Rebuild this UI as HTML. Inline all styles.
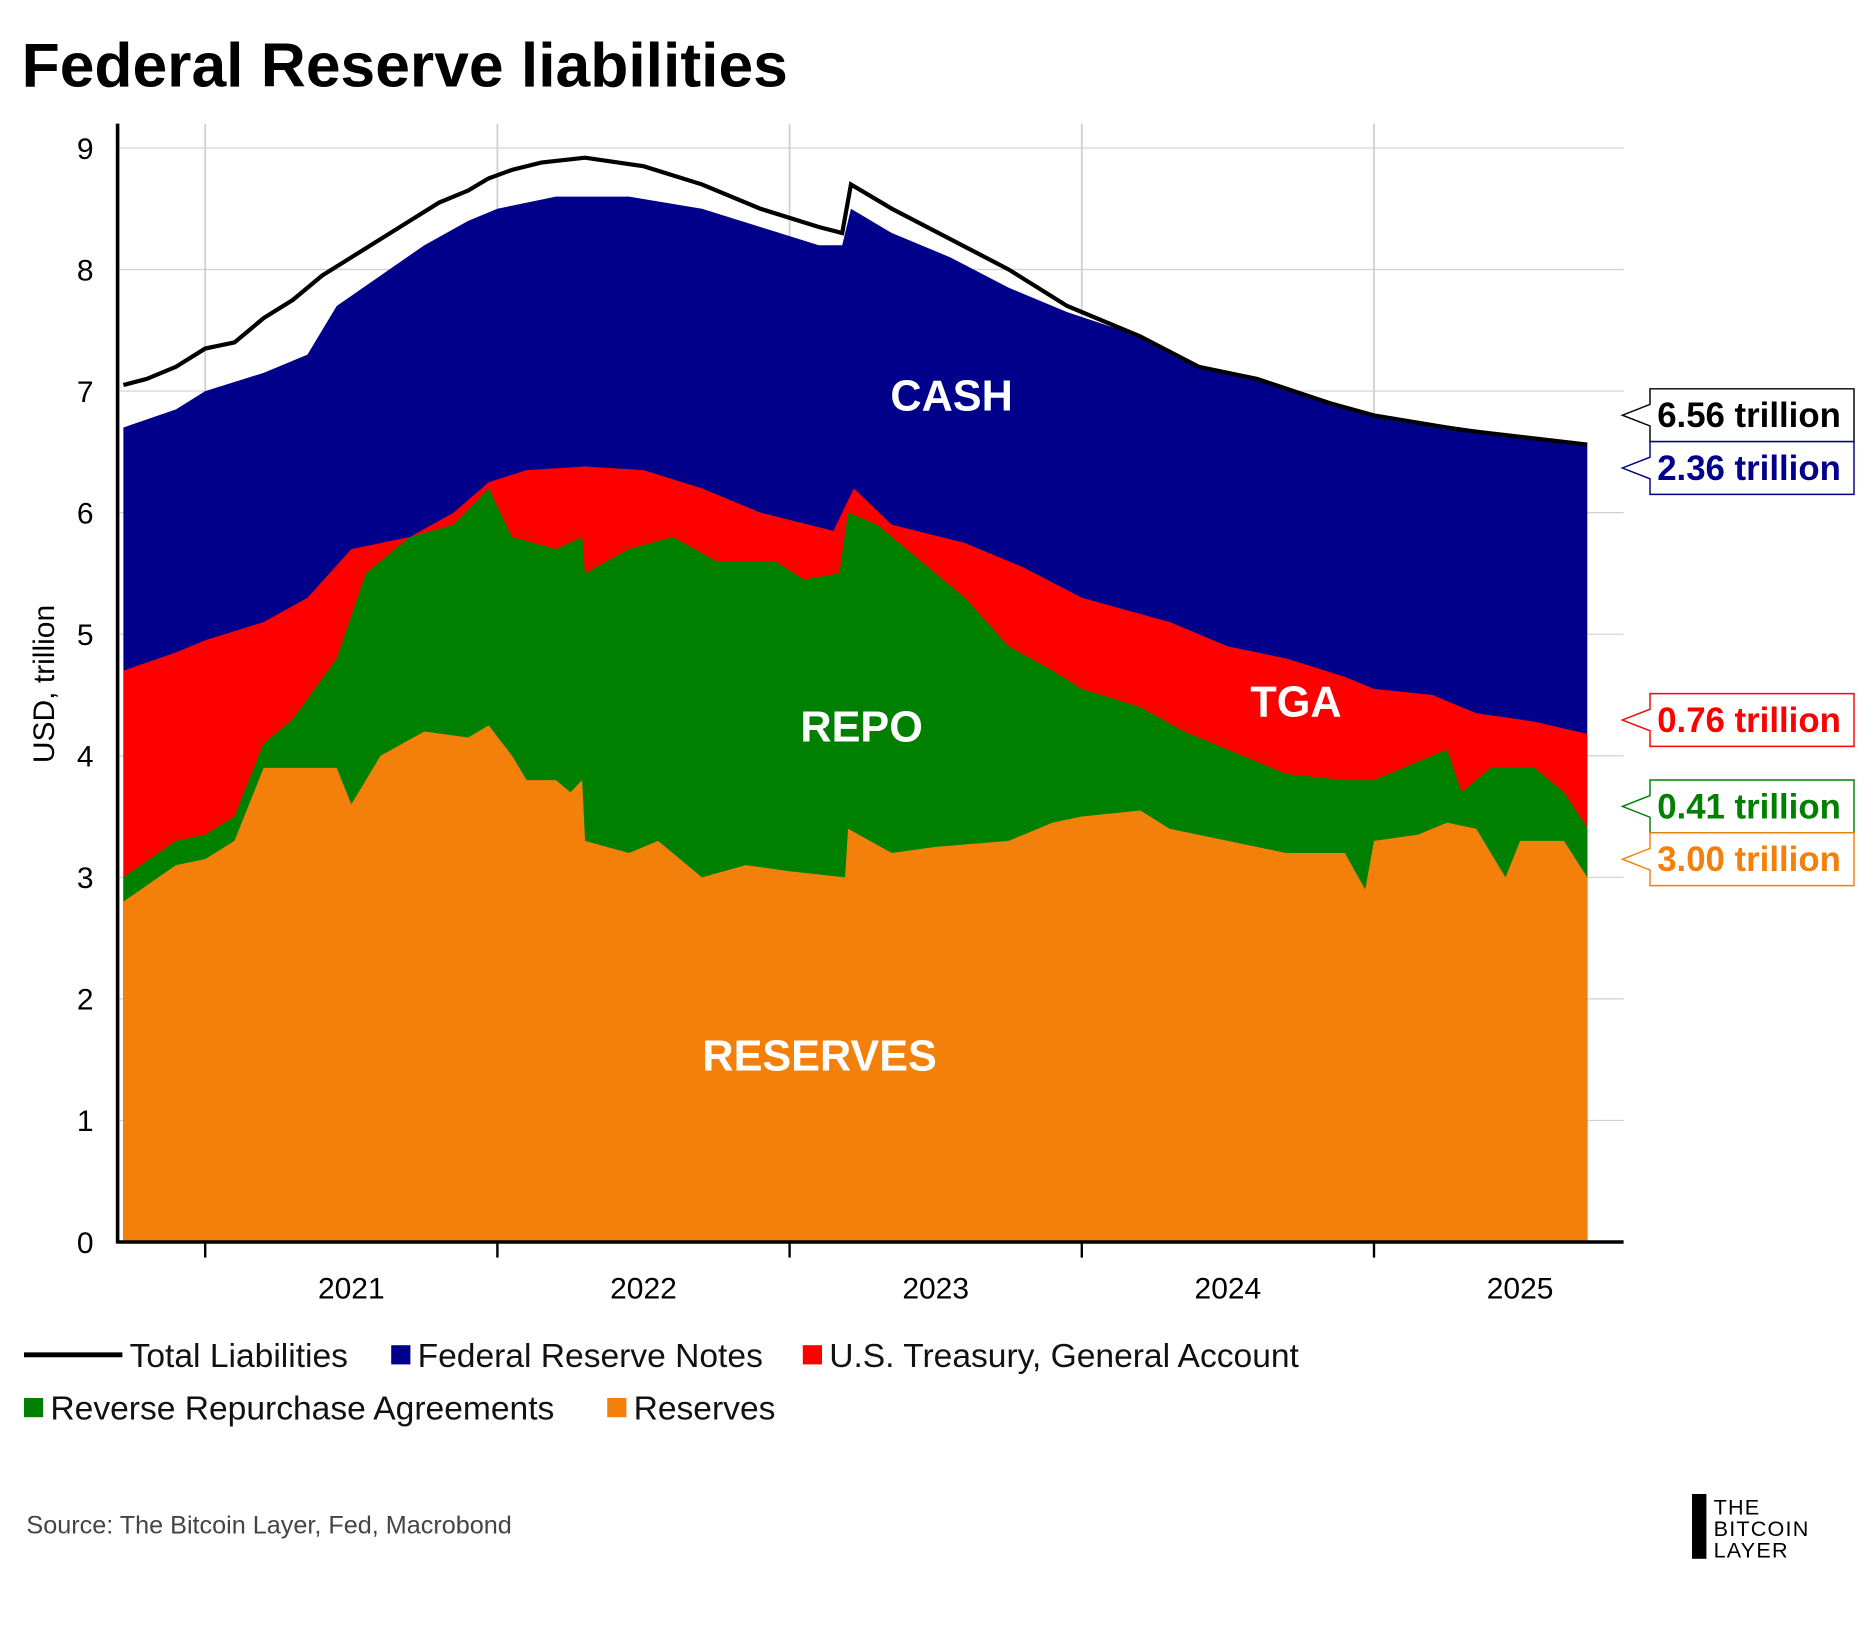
<!DOCTYPE html>
<html><head><meta charset="utf-8"><style>
html,body{margin:0;padding:0;background:#fff;}
svg{display:block;font-family:"Liberation Sans",sans-serif;}
</style></head><body>
<svg id="chart" width="1875" height="1625" viewBox="0 0 1562.5 1354.17">
<text x="18" y="72" font-size="52" font-weight="bold" fill="#000">Federal Reserve liabilities</text>
<g id="grid"></g>
<g id="areas"></g>
<g id="axes"></g>
<text x="0" y="0" transform="translate(45,570) rotate(-90)" text-anchor="middle" font-size="25" fill="#000">USD, trillion</text>
<g fill="#fff" font-weight="bold" font-size="36" text-anchor="middle">
<text x="793" y="342">CASH</text>
<text x="718" y="618">REPO</text>
<text x="683" y="892">RESERVES</text>
<text x="1080" y="597">TGA</text>
</g>
<g id="callouts"></g>
<g font-size="28" fill="#111">
<g><line x1="20" y1="1129" x2="102" y2="1129" stroke="#000" stroke-width="4"/><text x="108" y="1139">Total Liabilities</text></g>
<g><rect x="326" y="1121" width="16" height="16" fill="#00008b"/><text x="348" y="1139">Federal Reserve Notes</text></g>
<g><rect x="669" y="1121" width="16" height="16" fill="#ff0000"/><text x="691" y="1139">U.S. Treasury, General Account</text></g>
<g><rect x="20" y="1165" width="16" height="16" fill="#008000"/><text x="42" y="1183">Reverse Repurchase Agreements</text></g>
<g><rect x="506" y="1165" width="16" height="16" fill="#f4800c"/><text x="528" y="1183">Reserves</text></g>
</g>
<text x="22" y="1278" font-size="21" fill="#444">Source: The Bitcoin Layer, Fed, Macrobond</text>
<g>
<rect x="1410" y="1245" width="12" height="54" fill="#000"/>
<text x="1428" y="1262" font-size="18" fill="#000" letter-spacing="1">THE</text>
<text x="1428" y="1280" font-size="18" fill="#000" letter-spacing="1">BITCOIN</text>
<text x="1428" y="1298" font-size="18" fill="#000" letter-spacing="1">LAYER</text>
</g>
</svg>
<script>
const NS='http://www.w3.org/2000/svg';
// ---- data (cumulative stack tops, USD trillion) ----
const yTicks=[0,1,2,3,4,5,6,7,8,9];
const yearTicks=[2021,2022,2023,2024,2025];
const totalDates=[2020.72,2020.8,2020.9,2021.0,2021.1,2021.2,2021.3,2021.4,2021.5,2021.6,2021.7,2021.8,2021.9,2021.97,2022.05,2022.15,2022.3,2022.5,2022.7,2022.9,2023.1,2023.18,2023.21,2023.35,2023.55,2023.75,2023.95,2024.2,2024.4,2024.6,2024.85,2025.0,2025.3,2025.73];
const totalVals=[7.05,7.1,7.2,7.35,7.4,7.6,7.75,7.95,8.1,8.25,8.4,8.55,8.65,8.75,8.82,8.88,8.92,8.85,8.7,8.5,8.35,8.3,8.7,8.5,8.25,8.0,7.7,7.45,7.2,7.1,6.9,6.8,6.68,6.56];
const notesDates=[2020.72,2020.9,2021.0,2021.2,2021.35,2021.45,2021.6,2021.75,2021.9,2022.0,2022.2,2022.45,2022.7,2022.9,2023.1,2023.18,2023.21,2023.35,2023.55,2023.75,2023.95,2024.2,2024.4,2024.6,2024.85,2025.0,2025.3,2025.73];
const notesTop=[6.7,6.85,7.0,7.15,7.3,7.7,7.95,8.2,8.4,8.5,8.6,8.6,8.5,8.35,8.2,8.2,8.5,8.3,8.1,7.85,7.65,7.45,7.2,7.1,6.9,6.8,6.7,6.55];
const tgaDates=[2020.72,2020.9,2021.0,2021.2,2021.35,2021.5,2021.7,2021.85,2021.97,2022.1,2022.3,2022.5,2022.7,2022.9,2023.15,2023.22,2023.35,2023.6,2023.8,2024.0,2024.3,2024.5,2024.7,2024.9,2025.0,2025.2,2025.35,2025.55,2025.73];
const tgaTop=[4.7,4.85,4.95,5.1,5.3,5.7,5.8,6.0,6.25,6.35,6.38,6.35,6.2,6.0,5.85,6.2,5.9,5.75,5.55,5.3,5.1,4.9,4.8,4.65,4.55,4.5,4.35,4.28,4.18];
const rrpDates=[2020.72,2020.9,2021.0,2021.1,2021.2,2021.3,2021.45,2021.55,2021.7,2021.85,2021.97,2022.05,2022.2,2022.29,2022.3,2022.45,2022.6,2022.75,2022.95,2023.05,2023.17,2023.2,2023.3,2023.45,2023.6,2023.75,2023.9,2024.0,2024.2,2024.35,2024.5,2024.7,2024.9,2025.0,2025.2,2025.25,2025.3,2025.4,2025.55,2025.65,2025.73];
const rrpTop=[3.0,3.3,3.35,3.5,4.1,4.3,4.8,5.5,5.8,5.9,6.2,5.8,5.7,5.8,5.5,5.7,5.8,5.6,5.6,5.45,5.5,6.0,5.9,5.6,5.3,4.9,4.7,4.55,4.4,4.2,4.05,3.85,3.8,3.8,4.0,4.05,3.7,3.9,3.9,3.7,3.41];
const resDates=[2020.72,2020.9,2021.0,2021.1,2021.2,2021.3,2021.45,2021.5,2021.6,2021.75,2021.9,2021.97,2022.05,2022.1,2022.2,2022.25,2022.29,2022.3,2022.45,2022.55,2022.7,2022.85,2023.0,2023.19,2023.2,2023.35,2023.5,2023.75,2023.9,2024.0,2024.2,2024.3,2024.5,2024.7,2024.9,2024.97,2025.0,2025.15,2025.25,2025.35,2025.45,2025.5,2025.65,2025.73];
const resTop=[2.8,3.1,3.15,3.3,3.9,3.9,3.9,3.6,4.0,4.2,4.15,4.25,4.0,3.8,3.8,3.7,3.8,3.3,3.2,3.3,3.0,3.1,3.05,3.0,3.4,3.2,3.25,3.3,3.45,3.5,3.55,3.4,3.3,3.2,3.2,2.9,3.3,3.35,3.45,3.4,3.0,3.3,3.3,3.0];
const calloutLabels=['6.56 trillion','2.36 trillion','0.76 trillion','0.41 trillion','3.00 trillion'];
// ---- scales ----
const X0=171, PXY=243.5, Y0=1035, PYU=101.3;
const xs=t=>X0+(t-2021)*PXY;
const ys=v=>Y0-v*PYU;
function el(tag,attrs,parent){const e=document.createElementNS(NS,tag);for(const k in attrs)e.setAttribute(k,attrs[k]);parent.appendChild(e);return e;}
const grid=document.getElementById('grid'),areas=document.getElementById('areas'),axes=document.getElementById('axes'),callouts=document.getElementById('callouts');
yTicks.forEach(v=>{
  const g=el('line',{x1:98,x2:1353,y1:ys(v),y2:ys(v),stroke:'#d0d0d0','stroke-width':1},grid);
  
  
  const t=el('text',{x:78,y:ys(v)+9,'text-anchor':'end','font-size':25,fill:'#000'},axes);
  t.textContent=v;
  
  
});
yearTicks.forEach(yr=>{
  const g=el('line',{x1:xs(yr),x2:xs(yr),y1:103,y2:Y0,stroke:'#d0d0d0','stroke-width':1.5},grid);
  
  
  const tk=el('line',{x1:xs(yr),x2:xs(yr),y1:Y0,y2:Y0+13,stroke:'#000','stroke-width':2},axes);
  
  
  const t=el('text',{x:xs(yr+0.5),y:1082,'text-anchor':'middle','font-size':25,fill:'#000'},axes);
  t.textContent=yr;
  
  
});
function area(d,v,color,name){
  let p='M'+xs(d[0])+','+ys(0);
  d.forEach((t,i)=>p+=' L'+xs(t)+','+ys(v[i]));
  p+=' L'+xs(d[d.length-1])+','+ys(0)+'Z';
  const a=el('path',{d:p,fill:color},areas);
  
  
}
area(notesDates,notesTop,'#00008b','notes-area');
area(tgaDates,tgaTop,'#ff0000','tga-area');
area(rrpDates,rrpTop,'#008000','rrp-area');
area(resDates,resTop,'#f4800c','reserves-area');
let lp='';totalDates.forEach((t,i)=>lp+=(i?' L':'M')+xs(t)+','+ys(totalVals[i]));
const tl=el('path',{d:lp,fill:'none',stroke:'#000','stroke-width':3.5},areas);


const ax1=el('line',{x1:98,x2:98,y1:103,y2:Y0+1,stroke:'#000','stroke-width':3},axes);

const ax2=el('line',{x1:97,x2:1353,y1:Y0,y2:Y0,stroke:'#000','stroke-width':3},axes);

// callouts
const boxTops=[324,368,578,650,694];
const colors=['#000','#00008b','#ff0000','#008000','#f4800c'];
const names=['callout-total','callout-notes','callout-tga','callout-rrp','callout-reserves'];
calloutLabels.forEach((s,i)=>{
  const top=boxTops[i],h=44,mid=top+h/2,L=1375,R=1545;
  const g=el('g',{},callouts);
  
  
  el('path',{d:`M${L},${top} L${R},${top} L${R},${top+h} L${L},${top+h} L${L},${mid+9} L1352,${mid} L${L},${mid-9} Z`,fill:'#fff',stroke:colors[i],'stroke-width':1.2},g);
  const t=el('text',{x:1381,y:mid+10,'font-size':29,'font-weight':'bold',fill:colors[i]},g);
  t.textContent=s;
});
</script>
</body></html>
